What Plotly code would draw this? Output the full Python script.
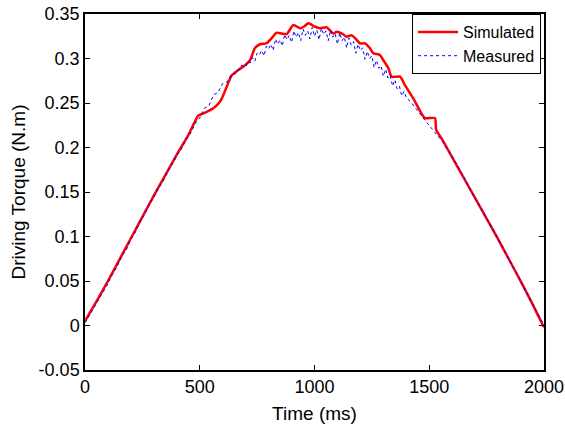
import plotly.graph_objects as go

# Simulated driving torque (time ms, torque N.m)
sim_t = [0, 50, 100, 150, 200, 250, 300, 350, 400, 450, 494, 508, 530, 559, 580, 596, 617, 639, 668, 700,
         719, 741, 763, 790, 813, 835, 857, 879, 908, 937, 955, 973, 1002, 1024, 1053, 1082, 1096, 1120, 1140, 1162,
         1180, 1198, 1220, 1240, 1256, 1285, 1300, 1322, 1336, 1373, 1394, 1431, 1460, 1481, 1525, 1530, 1554, 1600,
         1650, 1700, 1750, 1800, 1850, 1900, 1950, 1990, 2000]
sim_y = [0.005, 0.027, 0.050, 0.074, 0.098, 0.122, 0.146, 0.169, 0.192, 0.214, 0.236, 0.2375, 0.240, 0.244, 0.249,
         0.255, 0.268, 0.281, 0.287, 0.293, 0.298, 0.312, 0.316, 0.317, 0.3227, 0.329, 0.328, 0.3275, 0.3376, 0.334,
         0.336, 0.3395, 0.3357, 0.334, 0.335, 0.328, 0.330, 0.328, 0.3245, 0.326, 0.322, 0.317, 0.317, 0.312, 0.306,
         0.304, 0.298, 0.289, 0.2796, 0.2796, 0.270, 0.255, 0.241, 0.233, 0.233, 0.220, 0.210, 0.189, 0.166, 0.143,
         0.120, 0.097, 0.073, 0.049, 0.024, 0.003, -0.002]

# Measured driving torque (time ms, torque N.m)
meas_t = [0, 20, 40, 60, 80, 100, 120, 140, 160, 180, 200, 220, 240, 260, 280, 300, 320, 340, 360, 380, 400,
          420, 440, 460, 480, 500, 520, 540, 560, 580, 600, 620, 640, 660, 680,
          700, 710, 720, 730, 740, 750, 760, 770, 780, 790, 800, 810, 820, 830, 840, 850, 860, 870, 880, 890,
          900, 910, 920, 930, 940, 950, 960, 970, 980, 990, 1000, 1010, 1020, 1030, 1040, 1050, 1060, 1070, 1080,
          1090, 1100, 1110, 1120, 1130, 1140, 1150, 1160, 1170, 1180, 1190, 1200, 1210, 1220, 1230, 1240, 1250,
          1260, 1270, 1280, 1290, 1300, 1310, 1320, 1330, 1340, 1350, 1360, 1370, 1380, 1390,
          1400, 1420, 1440, 1460, 1480, 1500, 1520, 1540, 1560, 1580, 1600, 1620, 1640, 1660, 1680, 1700, 1720,
          1740, 1760, 1780, 1800, 1820, 1840, 1860, 1880, 1900, 1920, 1940, 1960, 1980, 2000]
meas_y = [0.003, 0.012, 0.021, 0.029, 0.039, 0.047, 0.058, 0.066, 0.078, 0.085, 0.097, 0.105, 0.117, 0.125, 0.136,
          0.144, 0.155, 0.162, 0.173, 0.181, 0.191, 0.198, 0.209, 0.216, 0.227, 0.233, 0.244, 0.247, 0.259, 0.262,
          0.272, 0.274, 0.283, 0.283, 0.292,
          0.291, 0.297, 0.295, 0.301, 0.297, 0.306, 0.304, 0.309, 0.303, 0.314,
          0.311, 0.316, 0.309, 0.322, 0.316, 0.321, 0.314, 0.327, 0.321, 0.326,
          0.318, 0.331, 0.324, 0.329, 0.320, 0.333, 0.326, 0.331, 0.322, 0.335,
          0.325, 0.332, 0.321, 0.334, 0.327, 0.331, 0.320, 0.332, 0.324, 0.328,
          0.316, 0.329, 0.320, 0.324, 0.312, 0.323, 0.315, 0.319, 0.306, 0.316,
          0.309, 0.312, 0.299, 0.308, 0.300, 0.303, 0.290, 0.298, 0.289, 0.292,
          0.280, 0.288, 0.278, 0.281, 0.269, 0.276, 0.266, 0.269, 0.258, 0.263,
          0.256, 0.251, 0.245, 0.238, 0.231, 0.225, 0.219, 0.213, 0.206, 0.198, 0.190, 0.181, 0.172, 0.162, 0.153,
          0.143, 0.134, 0.125, 0.116, 0.106, 0.097, 0.088, 0.078, 0.069, 0.059, 0.049, 0.039, 0.029, 0.019, 0.009,
          0.000]

x_ticks = [0, 500, 1000, 1500, 2000]
x_ticklabels = ["0", "500", "1000", "1500", "2000"]
y_ticks = [-0.05, 0, 0.05, 0.1, 0.15, 0.2, 0.25, 0.3, 0.35]
y_ticklabels = ["-0.05", "0", "0.05", "0.1", "0.15", "0.2", "0.25", "0.3", "0.35"]

FONT = "Liberation Sans, Arial, sans-serif"

fig = go.Figure()
fig.add_trace(go.Scatter(x=sim_t, y=sim_y, mode="lines", name="Simulated",
                         line=dict(color="#ff0000", width=2.5, shape="spline", smoothing=0.6)))
fig.add_trace(go.Scatter(x=meas_t, y=meas_y, mode="lines", name="Measured",
                         line=dict(color="#0000ff", width=1, dash="3px,3px")))

axis_common = dict(showgrid=False, zeroline=False, showline=True, linecolor="black", linewidth=1.5,
                   mirror="ticks", ticks="inside", ticklen=5, tickcolor="black", tickwidth=1,
                   tickfont=dict(family=FONT, size=18, color="black"), automargin=False)

fig.update_layout(
    width=565, height=429,
    margin=dict(l=85, r=21, t=14, b=59),
    paper_bgcolor="white", plot_bgcolor="white",
    font=dict(family=FONT, color="black"),
    xaxis=dict(range=[0, 2000], tickvals=x_ticks, ticktext=x_ticklabels,
               title=dict(text="Time (ms)", font=dict(family=FONT, size=19), standoff=10), **axis_common),
    yaxis=dict(range=[-0.05, 0.35], tickvals=y_ticks, ticktext=y_ticklabels,
               title=dict(text="Driving Torque (N.m)", font=dict(family=FONT, size=19), standoff=8), **axis_common),
    legend=dict(x=0.9935, y=1.0, xanchor="right", yanchor="top", bordercolor="black", borderwidth=1,
                bgcolor="white", font=dict(family=FONT, size=16), tracegroupgap=0, itemwidth=40),
    showlegend=True,
)

# remove the default 8px page margin so the figure fills the window exactly
fig.write_html("out.html", config={"displayModeBar": False},
               post_script="document.body.style.margin='0';")
